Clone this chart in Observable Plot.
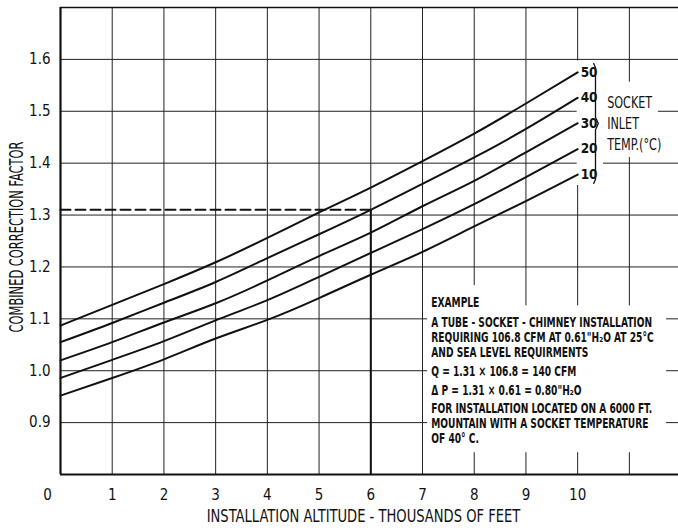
<!DOCTYPE html>
<html>
<head>
<meta charset="utf-8">
<script src="https://cdn.jsdelivr.net/npm/d3@7"></script>
<script src="https://cdn.jsdelivr.net/npm/@observablehq/plot@0.6"></script>
<style>
  html, body { margin: 0; padding: 0; background: #fff; }
  svg { display: block; }
</style>
</head>
<body>
<div id="chart"></div>
<script>
// ---- data ----
const altitude = [0, 1, 2, 3, 4, 5, 6, 7, 8, 9, 10];          // thousands of feet
const temps = [10, 20, 30, 40, 50];                            // socket inlet temp (°C)
const factor10 = [0.952, 0.986, 1.022, 1.062, 1.098, 1.140, 1.185, 1.229, 1.278, 1.327, 1.378];
const factor20 = [0.986, 1.021, 1.057, 1.097, 1.136, 1.181, 1.227, 1.273, 1.321, 1.373, 1.427];
const factor30 = [1.020, 1.055, 1.093, 1.130, 1.174, 1.221, 1.266, 1.317, 1.366, 1.421, 1.477];
const factor40 = [1.055, 1.092, 1.131, 1.171, 1.217, 1.263, 1.310, 1.360, 1.411, 1.466, 1.526];
const factor50 = [1.087, 1.127, 1.167, 1.209, 1.256, 1.305, 1.353, 1.404, 1.457, 1.515, 1.575];
const xTickLabels = [1, 2, 3, 4, 5, 6, 7, 8, 9, 10];
const xGridValues = [1, 2, 3, 4, 5, 6, 7, 8, 9, 10, 11];
const yTickValues = [0.9, 1.0, 1.1, 1.2, 1.3, 1.4, 1.5, 1.6];
const xDomain = [0, 11.95];
const yDomain = [0.8, 1.7];
const exampleAltitude = 6;
const exampleFactor = 1.31;

const xTitle = "INSTALLATION ALTITUDE - THOUSANDS OF FEET";
const yTitle = "COMBINED CORRECTION FACTOR";
const legendTitle = "SOCKET\nINLET\nTEMP.(°C)";
const exampleHead = "EXAMPLE";
const exampleP1 = "A TUBE - SOCKET - CHIMNEY INSTALLATION\nREQUIRING 106.8 CFM AT 0.61\"H\u2082O AT 25°C\nAND SEA LEVEL REQUIRMENTS";
const exampleQ = "Q = 1.31 \u00d7 106.8 = 140 CFM";
const exampleP = "\u0394 P = 1.31 \u00d7 0.61 = 0.80\"H\u2082O";
const exampleP2 = "FOR INSTALLATION LOCATED ON A 6000 FT.\nMOUNTAIN WITH A SOCKET TEMPERATURE\nOF 40° C.";

// ---- build tables ----
const series = [factor10, factor20, factor30, factor40, factor50];
const rows = temps.flatMap((t, k) => altitude.map((a, i) => ({ altitude: a, factor: series[k][i], temp: t })));
const ends = temps.map((t, k) => ({ altitude: altitude[altitude.length - 1], factor: series[k][series[k].length - 1], temp: t }));

// brace spanning the curve end labels
const bTop = d3.max(ends, d => d.factor) + 0.017;
const bBot = d3.min(ends, d => d.factor) - 0.017;
const bMid = (bTop + bBot) / 2;
const brace = [
  [10.31, bTop], [10.345, bTop - 0.008], [10.345, bMid + 0.012], [10.40, bMid],
  [10.345, bMid - 0.012], [10.345, bBot + 0.008], [10.31, bBot]
];

const FONT = "'Liberation Sans Narrow', 'DejaVu Sans Condensed', 'Arial Narrow', sans-serif";
const INK = "#111";

const chart = Plot.plot({
  width: 678,
  height: 530,
  marginLeft: 60,
  marginRight: 0,
  marginTop: 7,
  marginBottom: 56,
  style: { fontFamily: FONT, fontSize: "15px", color: INK, background: "#fff" },
  x: { domain: xDomain, ticks: xTickLabels, tickSize: 0, tickPadding: 15, tickFormat: d => String(d), label: null },
  y: { domain: yDomain, ticks: yTickValues, tickSize: 0, tickPadding: 10, tickFormat: d3.format(".1f"), label: null },
  marks: [
    // grid
    Plot.ruleY(yTickValues, { stroke: "#222", strokeWidth: 1 }),
    Plot.ruleX(xGridValues, { stroke: "#222", strokeWidth: 1 }),
    // white label backgrounds that interrupt the grid
    Plot.rect([0], { x1: 7.1, x2: 11.72, y1: 0.842, y2: 1.125, fill: "#fff" }),
    Plot.rect([0], { x1: 7.9, x2: 8.1, y1: 1.12, y2: 1.164, fill: "#fff" }),
    Plot.rect([0], { x1: 9.99, x2: 10.5, y1: 1.357, y2: 1.597, fill: "#fff" }),
    Plot.rect([0], { x1: 10.5, x2: 11.56, y1: 1.411, y2: 1.556, fill: "#fff" }),
    // frame
    Plot.ruleX([xDomain[0]], { stroke: INK, strokeWidth: 2.2 }),
    Plot.ruleY([yDomain[0]], { stroke: INK, strokeWidth: 2.2 }),
    Plot.ruleY([yDomain[1]], { stroke: INK, strokeWidth: 1.5 }),
    // example read-off lines
    Plot.line([[xDomain[0], exampleFactor], [exampleAltitude, exampleFactor]], { stroke: INK, strokeWidth: 2, strokeDasharray: "10,5" }),
    Plot.ruleX([exampleAltitude], { y1: yDomain[0], y2: exampleFactor, stroke: INK, strokeWidth: 2 }),
    // curves
    Plot.line(rows, { x: "altitude", y: "factor", z: "temp", stroke: INK, strokeWidth: 2, curve: "natural" }),
    // curve labels
    Plot.text(ends, { x: "altitude", y: "factor", text: d => String(d.temp), dx: 3, textAnchor: "start", fontSize: 13.5, fontWeight: "bold", fill: INK }),
    // brace
    Plot.line(brace, { stroke: INK, strokeWidth: 1.3 }),
    // legend title
    Plot.text([legendTitle], { x: 10.57, y: 1.479, textAnchor: "start", lineAnchor: "middle", lineHeight: 1.3, fontSize: 16, fontWeight: 500, fill: INK, ariaDescription: "condenseA" }),
    // example text
    Plot.text([exampleHead], { x: 7.17, y: 1.1315, textAnchor: "start", fontSize: 13.5, fontWeight: "bold", fill: INK, ariaDescription: "condenseB" }),
    Plot.text([exampleP1], { x: 7.17, y: 1.064, textAnchor: "start", lineHeight: 1.11, fontSize: 13.5, fontWeight: "bold", fill: INK, ariaDescription: "condenseB" }),
    Plot.text([exampleQ], { x: 7.17, y: 0.9985, textAnchor: "start", fontSize: 13.5, fontWeight: "bold", fill: INK, ariaDescription: "condenseB" }),
    Plot.text([exampleP], { x: 7.17, y: 0.9619, textAnchor: "start", fontSize: 13.5, fontWeight: "bold", fill: INK, ariaDescription: "condenseB" }),
    Plot.text([exampleP2], { x: 7.17, y: 0.8983, textAnchor: "start", lineHeight: 1.11, fontSize: 13.5, fontWeight: "bold", fill: INK, ariaDescription: "condenseB" }),
    // "0" tick label (set left of the axis corner)
    Plot.text(altitude.slice(0, 1), { x: d => d, y: () => yDomain[0], text: d => String(d), dx: -13, dy: 21, fontSize: 15, fill: INK }),
    // axis titles
    Plot.text([xTitle], { frameAnchor: "bottom", dy: 47, dx: -6, textAnchor: "middle", fontSize: 18, fill: INK, ariaDescription: "condenseC" }),
    Plot.text([yTitle], { frameAnchor: "left", dx: -44, dy: -4, rotate: -90, textAnchor: "middle", fontSize: 19, fill: INK, ariaDescription: "condenseD" })
  ]
});

document.getElementById("chart").appendChild(chart);

// horizontally condense lettering to mimic the narrow drafting font
[["condenseA", 0.78], ["condenseB", 0.75], ["condenseC", 0.81], ["condenseD", 0.67]].forEach(([desc, k]) => {
  chart.querySelectorAll(`g[aria-description="${desc}"] text`).forEach(t => {
    const tr = t.getAttribute("transform");
    if (tr) {
      t.setAttribute("transform", tr + ` scale(${k},1)`);
    } else {
      const x = +t.getAttribute("x") || 0, y = +t.getAttribute("y") || 0;
      t.setAttribute("transform", `translate(${x},${y}) scale(${k},1) translate(${-x},${-y})`);
    }
  });
});
</script>
</body>
</html>
